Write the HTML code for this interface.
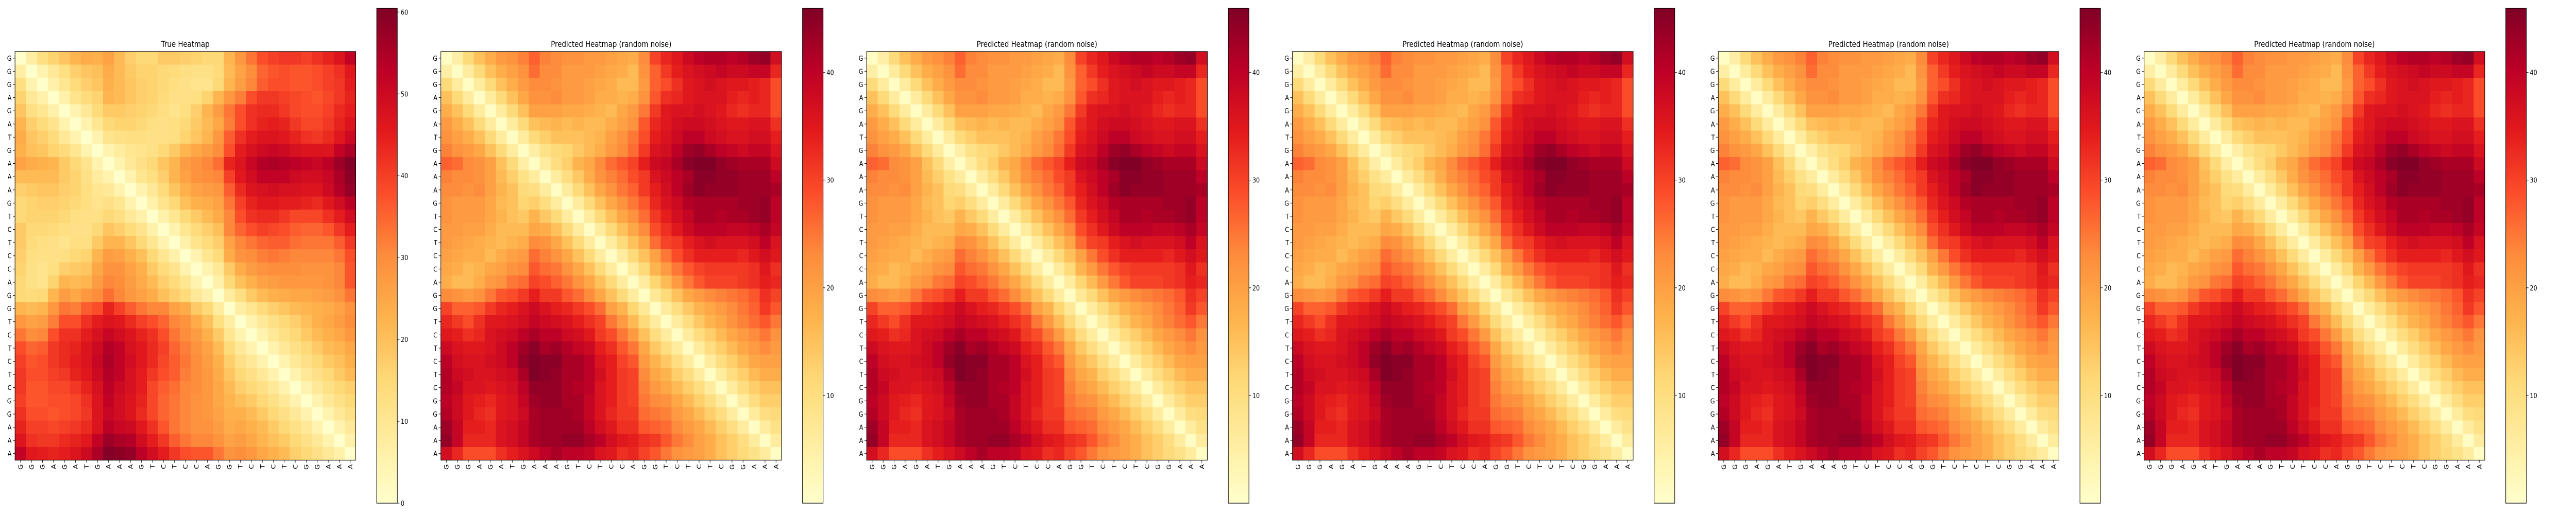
<!DOCTYPE html>
<html><head><meta charset="utf-8"><style>
html,body{margin:0;padding:0;background:#fff;width:100%;height:100%;overflow:hidden;}
svg{display:block;width:100vw;height:100vh;font-family:"DejaVu Sans","Liberation Sans",sans-serif;}
</style></head><body>
<svg id="chart" viewBox="0 0 6000 1000" preserveAspectRatio="none" xmlns="http://www.w3.org/2000/svg"></svg>
<script>
const seqLabels = ["G","G","G","A","G","A","T","G","A","A","A","G","T","C","T","C","C","A","G","G","T","C","T","C","T","C","G","G","A","A","A"];
const panelTitles = ["True Heatmap","Predicted Heatmap (random noise)","Predicted Heatmap (random noise)","Predicted Heatmap (random noise)","Predicted Heatmap (random noise)","Predicted Heatmap (random noise)"];
const trueTicks = [0,10,20,30,40,50,60];
const predTicks = [10,20,30,40];
const trueUpper = [
[7,13,16,19,22,24,23,26,21,17,15,15,18,18,17,16,15,15,22,28,33,38,40,41,41,40,42,44,47,52],
[5,9,13,17,19,20,24,21,18,16,16,15,14,13,12,12,14,21,26,30,35,37,38,37,37,38,40,42,46],
[6,10,14,17,19,23,21,19,17,16,15,13,12,11,11,15,22,27,31,36,38,38,37,37,38,40,41,45],
[6,11,14,16,22,21,19,17,16,14,12,12,13,16,22,28,32,38,41,41,40,39,38,37,39,41,44],
[5,9,14,18,18,17,16,15,13,11,13,17,22,27,33,38,42,43,43,41,39,38,38,40,43,45],
[5,10,15,16,16,15,13,12,13,15,18,21,25,32,38,42,44,45,44,41,39,39,41,44,47],
[5,11,12,13,13,12,12,13,16,19,22,28,36,42,45,47,47,46,44,42,41,43,46,50],
[5,8,10,11,12,15,18,22,25,27,30,38,45,48,50,51,50,48,47,47,47,52,55],
[5,9,12,15,19,22,27,29,31,34,44,47,51,54,55,54,53,52,51,53,57,60],
[5,10,13,17,22,26,29,30,31,40,46,49,52,52,52,50,49,49,51,55,59],
[5,9,14,19,23,26,27,28,36,43,47,48,49,48,48,47,47,50,54,58],
[6,11,15,20,23,24,26,33,40,44,46,46,45,45,44,43,46,49,53],
[6,10,15,18,21,24,31,38,42,43,43,41,39,39,39,42,45,49],
[5,10,14,17,20,31,35,38,40,39,38,36,35,35,37,41,45],
[6,11,14,17,26,31,33,35,36,36,34,33,33,33,36,41],
[5,10,14,24,29,30,32,33,32,31,31,31,31,33,38],
[5,9,18,24,27,29,30,30,30,29,29,29,31,37],
[6,15,20,23,26,27,28,28,28,28,29,31,37],
[8,13,18,21,23,24,25,25,26,27,29,33],
[7,10,14,17,19,21,22,23,24,26,29],
[5,9,12,15,17,20,23,25,27,30],
[5,9,12,15,18,21,23,25,28],
[5,9,12,15,18,21,22,25],
[5,9,12,15,18,20,23],
[5,9,12,15,18,21],
[5,9,12,15,17],
[5,9,12,15],
[5,9,12],
[5,9],
[6]
];
const predUpper = [
[5,11,15,18,21,22,24,27,24,23,22,22,21,21,20,19,18,23,30,33,35,38,40,41,41,40,41,43,44,37],
[6,11,15,18,20,22,26,23,23,21,21,21,20,19,18,16,22,27,31,34,36,37,38,39,38,38,39,39,33],
[6,11,15,18,21,23,23,22,21,21,20,19,18,16,16,21,27,29,32,35,36,37,36,35,35,34,33,29],
[6,11,15,19,22,22,23,21,21,20,18,18,17,18,22,28,32,33,35,36,36,36,34,33,34,33,29],
[6,11,15,20,20,20,19,19,18,17,16,19,21,25,31,35,36,36,37,36,35,33,32,33,33,29],
[6,11,15,16,17,16,17,16,16,18,20,22,28,33,35,37,38,38,37,36,35,35,36,36,32],
[6,11,13,15,15,15,16,17,20,22,25,29,34,36,38,40,40,38,37,36,36,37,37,34],
[5,9,11,12,14,16,18,21,23,26,31,36,37,40,43,44,42,40,39,38,39,39,36],
[6,10,13,17,19,23,26,28,30,34,38,39,42,45,46,46,44,43,42,42,42,38],
[6,10,14,18,22,24,26,29,31,36,38,40,42,45,45,44,44,43,43,43,40],
[6,11,15,19,22,25,27,31,34,37,40,43,45,44,44,44,43,43,43,42],
[6,11,15,19,22,25,28,33,36,38,41,42,42,42,42,43,43,44,40],
[6,11,15,19,22,26,31,34,37,39,42,42,41,42,42,43,44,40],
[6,11,15,19,23,29,32,35,38,40,40,40,39,39,40,42,39],
[6,11,15,19,26,30,31,34,36,37,36,36,36,37,40,36],
[6,11,15,20,25,29,32,34,34,34,34,33,35,37,35],
[6,11,17,21,25,28,30,31,31,31,31,32,35,32],
[6,12,16,21,25,28,30,30,30,31,32,34,33],
[7,11,15,19,21,23,24,25,26,28,32,30],
[6,10,14,17,19,21,23,25,27,31,28],
[6,10,14,17,19,22,24,26,28,25],
[6,10,13,16,19,21,23,25,22],
[6,10,13,16,19,21,23,21],
[6,10,13,16,19,20,20],
[6,10,13,16,18,18],
[6,10,13,15,15],
[6,10,13,13],
[6,10,11],
[6,9],
[6]
];
const trueDiag = 0, predDiag = 1;

const NS = "http://www.w3.org/2000/svg";
const svg = document.getElementById("chart");
const stops = ["#ffffcc","#ffeda0","#fed976","#feb24c","#fd8d3c","#fc4e2a","#e31a1c","#bd0026","#800026"];
function hex(h){return [parseInt(h.substr(1,2),16),parseInt(h.substr(3,2),16),parseInt(h.substr(5,2),16)];}
const stopRGB = stops.map(hex);
function cmap(t){
  t=Math.max(0,Math.min(1,t));
  const p=t*8, i=Math.min(7,Math.floor(p)), f=p-i;
  const a=stopRGB[i], b=stopRGB[i+1];
  return "rgb("+a.map((v,k)=>Math.round(v+(b[k]-v)*f)).join(",")+")";
}
function buildMatrix(upper, diag){
  const n=seqLabels.length, m=[];
  for(let i=0;i<n;i++){m.push(new Array(n).fill(diag));}
  for(let i=0;i<upper.length;i++){
    for(let k=0;k<upper[i].length;k++){
      const j=i+1+k; m[i][j]=upper[i][k]; m[j][i]=upper[i][k];
    }
  }
  return m;
}
function mk(tag, attrs, parent){
  const e=document.createElementNS(NS,tag);
  for(const k in attrs) e.setAttribute(k,attrs[k]);
  (parent||svg).appendChild(e); return e;
}
const defs = mk("defs",{});
const trueM = buildMatrix(trueUpper, trueDiag);
const predM = buildMatrix(predUpper, predDiag);

const PANEL_DX = 991.8, HX0 = 35, HY0 = 100, HS = 793.5, CBX0 = 877.4, CBW = 48, CBY0 = 16, CBY1 = 977;

for(let p=0;p<6;p++){
  const isTrue = p===0;
  const M = isTrue? trueM : predM;
  const vmin = 0, vmax = isTrue? 60.46 : 45.96;
  const ticks = isTrue? trueTicks : predTicks;
  const ox = p*PANEL_DX;
  const g = mk("g",{});
  
  
  const n = seqLabels.length, cs = HS/n;
  const xScale = j => ox+HX0+j*cs;
  const yScale = i => HY0+i*cs;
  const color = v => cmap((v-vmin)/(vmax-vmin));
  const t = mk("text",{x:ox+HX0+HS/2, y:91, "text-anchor":"middle","font-size":"16",fill:"#000"},g);
  t.textContent = panelTitles[p];
  
  
  const cells = mk("g",{"shape-rendering":"crispEdges"},g);
  
  
  for(let i=0;i<n;i++){for(let j=0;j<n;j++){
    const r = mk("rect",{x:xScale(j).toFixed(2), y:yScale(i).toFixed(2), width:(cs+0.6).toFixed(2), height:(cs+0.6).toFixed(2), fill:color(M[i][j])},cells);
    
    
  }}
  const fr = mk("rect",{x:ox+HX0, y:HY0, width:HS, height:HS, fill:"none", stroke:"#000","stroke-width":"1.2"},g);
  
  
  for(let i=0;i<n;i++){
    const cy = yScale(i)+cs/2;
    mk("line",{x1:ox+HX0-5, x2:ox+HX0, y1:cy, y2:cy, stroke:"#000","stroke-width":"1"},g);
    const yl = mk("text",{x:ox+HX0-8, y:cy+5, "text-anchor":"end","font-size":"13.5",fill:"#000"},g);
    yl.textContent = seqLabels[i];
    
    
    const cx = xScale(i)+cs/2;
    mk("line",{x1:cx, x2:cx, y1:HY0+HS, y2:HY0+HS+5, stroke:"#000","stroke-width":"1"},g);
    const xl = mk("text",{x:0, y:0, "text-anchor":"end","font-size":"13.5",fill:"#000", transform:"translate("+(cx+5)+","+(HY0+HS+8)+") rotate(-90)"},g);
    xl.textContent = seqLabels[i];
    
    
  }
  const gid = "cbgrad"+p;
  const lg = mk("linearGradient",{id:gid, x1:"0", y1:"1", x2:"0", y2:"0"},defs);
  for(let s=0;s<=40;s++){ mk("stop",{offset:(s/40), "stop-color":cmap(s/40)},lg); }
  const cbx = ox+CBX0;
  const cb = mk("rect",{x:cbx, y:CBY0, width:CBW, height:CBY1-CBY0, fill:"url(#"+gid+")", stroke:"#000","stroke-width":"1.2"},g);
  
  
  const cbScale = v => CBY1 - (v-vmin)/(vmax-vmin)*(CBY1-CBY0);
  ticks.forEach(v=>{
    const y = cbScale(v);
    mk("line",{x1:cbx+CBW, x2:cbx+CBW+5, y1:y, y2:y, stroke:"#000","stroke-width":"1"},g);
    const tl = mk("text",{x:cbx+CBW+8, y:y+5, "font-size":"13.5",fill:"#000"},g);
    tl.textContent = String(v);
    
    
  });
}
</script>
</body></html>
